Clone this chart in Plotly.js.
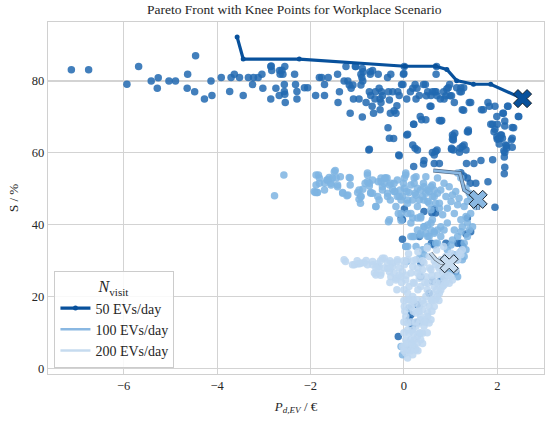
<!DOCTYPE html>
<html>
<head>
<meta charset="utf-8">
<script src="https://cdn.plot.ly/plotly-3.0.1.min.js"></script>
<style>html,body{margin:0;padding:0;background:#fff;}#chart{width:550px;height:422px;}</style>
</head>
<body>
<div id="chart"></div>
<script>
// ---- Scatter data: N_visit = 50 EVs/day ----
const ev50X = [-7.12,-6.75,-5.93,-5.68,-5.41,-5.26,-5.28,-5.03,-4.89,-4.63,-4.46,-4.64,-4.48,-4.27,-4.13,-4.11,-3.91,-3.73,-3.70,-3.63,-3.52,-3.44,-3.33,-3.22,-3.12,-3.04,-3.24,-3.02,-2.85,-2.83,-2.66,-2.65,-2.59,-2.55,-2.85,-2.74,-2.67,-2.56,-2.56,-2.54,-2.34,-2.32,-2.29,-2.29,-2.13,-2.06,-1.89,-1.81,-1.76,-1.62,-1.70,-1.70,-1.42,-1.38,-1.41,-1.28,-1.24,-1.20,-1.17,-1.13,-1.09,-1.15,-1.08,-1.03,-0.96,-0.92,-0.90,-0.88,-0.92,-0.89,-0.89,-0.81,-0.74,-0.72,-0.71,-0.67,-0.65,-0.68,-0.62,-0.61,-0.55,-0.53,-0.51,-0.49,-0.48,-0.46,-0.51,-0.35,-0.33,-0.31,-0.29,-0.28,-0.24,-0.21,-0.17,-0.15,-0.13,-0.10,-0.34,-0.22,-0.05,-0.02,-0.01,0.01,-0.87,-0.72,0.00,0.69,0.70,0.06,0.06,0.14,0.19,0.21,0.24,0.26,0.28,0.33,0.35,0.38,0.42,0.46,0.47,0.48,0.51,0.56,0.58,0.61,0.66,0.69,0.71,0.76,0.78,0.81,0.85,0.86,0.90,0.92,0.95,0.98,0.99,1.02,1.08,1.09,1.06,1.13,1.20,1.22,1.23,1.28,1.25,1.29,1.36,1.40,1.43,1.66,1.70,1.80,1.83,1.86,1.90,1.93,1.95,1.99,2.00,2.02,2.06,2.09,2.12,2.16,2.18,2.23,2.30,2.35,2.46,-0.75,-0.11,0.71,0.24,0.29,1.06,1.19,2.14,0.08,0.21,0.58,0.79,1.04,1.28,1.38,1.25,1.02,1.95,2.00,2.13,2.16,2.22,2.32,2.32,2.45,2.04,2.20,2.32,-0.31,0.19,-0.10,0.61,0.65,0.68,0.43,0.42,0.21,0.65,0.76,1.04,1.06,1.02,1.20,1.33,1.38,1.99,2.07,2.11,2.20,2.16,2.15,2.16,2.15,1.34,1.50,1.65,1.90,1.22,1.28,1.36,1.42,1.54,1.80,1.95,0.65,0.68,0.60,-0.06,-0.03,0.33,-0.03,0.59,0.65,1.22,1.26,1.33,-0.74,1.15,1.11,1.43,1.36,0.01,0.43,0.11,0.15,-0.12,0.29,0.54,0.36,0.61,0.36,0.78,0.28,0.18,0.90,-2.84,-2.61,-2.55,-1.04];
const ev50Y = [83.1,83.1,79.1,84,80,80.9,78,80,80,81.9,87,78,77,75,80,76,81,77.1,81,81.9,81,76,81,81,81,81.9,79,78,84,82.9,82.9,81.9,81.9,84,75,78,76,79,77.1,74,81.9,79,77.1,75,78.1,78.1,76,81,81,81,79,76,81.9,77,74,80,84,80,78.9,78,78.9,71,75,84,75,81.9,81,80,78.9,83.5,70,74,77,81.9,76,82.9,71,73,75,77,81.9,78,75,74,77,75.9,72,81,77,74.7,71,81.9,77,71.7,71,73.1,77,76,67,64,79,79,81.9,84,82.6,82.6,82.1,81.9,84,75,65,77,78,68,79,75,78,76,70.1,69.2,79,79,69.2,75.9,77,73,76,77,77,77,75.9,69,75,69,77,75,75.9,77.8,78.1,79,75.9,75.9,74,65.5,64.5,78.1,77,78.1,77,78.1,72,62.2,65.9,74,74,72,72,74,73,68,68,65.9,73,70.1,68,64,64,65,71,68.9,62.2,73,63.6,67,70.1,60.8,59.4,60.8,61.3,60.8,60.8,60.2,60.6,65.2,68,73,68.9,63.8,71.9,65.9,61.8,61,66.6,63.8,71,67.5,73,67.1,64.1,70.1,62.5,62,61.6,64.1,62.2,59.2,60.1,59.4,60.4,57.9,56.9,56.2,57.1,57.1,65,63.6,61.3,61.3,60.8,66.4,64.5,65,64.1,61.3,60.1,58.9,56,54.2,57.1,57.1,57.9,58.1,54.5,53.6,53,51.6,51.6,52,44.9,44.4,43.3,43.3,41.9,41.4,36.8,36,34.9,34.4,34.9,34,37.5,61,34.9,27,38.1,41.9,44.4,43.7,13.6,15,9,17.8,21,25.6,24.3,29.4,24.3,12.9,11.8,34.9,84.2,83,76.3,84];

// ---- Scatter data: N_visit = 100 EVs/day ----
const ev100X = [-2.57,-2.77,-1.83,-1.81,-1.88,-1.90,-1.85,-1.70,-1.65,-1.60,-1.56,-1.53,-1.47,-1.42,-1.36,-1.31,-1.22,-1.17,-1.15,-0.99,-0.96,-0.92,-0.93,-0.88,-0.83,-0.78,-0.78,-0.74,-0.71,-0.67,-0.60,-0.56,-0.55,-0.49,-0.46,-0.42,-0.41,-0.36,-0.35,-0.31,-0.29,-0.24,-0.21,-0.19,-0.14,-0.12,-0.08,-0.06,-0.03,-0.01,0.01,0.04,0.06,0.08,0.11,0.15,0.19,0.22,0.24,0.26,0.29,0.33,0.36,0.42,0.43,0.47,0.51,0.54,0.58,0.61,0.65,0.68,0.72,0.76,-0.33,-0.06,0.08,0.19,0.29,0.36,0.43,0.51,0.58,0.61,0.65,0.72,0.79,0.19,0.36,0.47,0.54,0.04,0.26,0.40,0.68,0.51,0.43,-1.81,-1.86,-1.70,-1.63,-1.56,-1.49,-1.45,-1.42,-1.31,-1.20,-1.15,-0.96,-0.92,-0.78,-0.74,-0.71,-0.67,-0.60,-0.53,-0.49,-0.46,-0.39,-0.35,-0.31,-0.28,-0.21,-0.17,-0.14,-0.10,-0.06,0.01,0.04,0.08,0.15,0.22,0.26,0.29,0.36,0.40,0.43,0.47,0.51,0.54,0.58,0.61,0.65,0.72,0.76,0.79,0.83,0.86,0.90,0.93,0.97,1.01,1.04,1.08,1.11,1.15,1.18,1.22,1.25,1.29,1.33,1.36,1.40,1.43,1.47,1.50,1.54,1.36,1.29,1.22,1.15,1.08,1.04,0.93,0.86,0.79,0.72,0.65,0.58,0.51,0.43,0.36,0.29,0.22,0.15,0.08,0.93,1.01,1.08,1.15,1.22,1.25,1.29,1.33,1.15,1.22,1.33,1.40,1.43,1.36,1.04,0.93,0.86,1.15,-1.92,-1.88,0.04,0.15,0.06,0.33,0.11,-0.06,-0.03,0.08];
const ev100Y = [53.9,48.1,53.9,53,51.1,49,49,51.6,52.5,53.2,51.6,53,55.1,51.1,53.4,49,48.1,53.2,51.1,49,47.1,47.9,46,49.9,51.6,53.9,52,50.8,49,48.8,45.1,47.9,52,53,50.6,51.6,53,53,48.8,51.1,46.9,49.9,51.6,49.3,47.9,43.2,49.7,46.9,47.9,51.6,53,53.9,49.3,46,49,43.2,46.9,51.6,48.8,53.4,50.2,46.9,49.7,51.6,46.9,48.8,49.7,46,50.6,47.9,49.7,46,48.8,44.6,40.9,41.2,43.2,41.9,41.9,42.3,39.5,40,40.5,41.4,38.1,38.6,39.5,36.8,37.2,37.7,36.8,34,34,33.1,34.9,34,31.7,51.6,49,49.7,52.5,51.1,54.8,53,50.6,48.8,48.3,53,49.7,47.9,54.4,51.6,48.8,52.5,45.1,46.9,52,49.7,53,47.9,41.4,51.6,49.3,45.1,52.5,47.9,43.2,50.2,54.4,46.9,51.1,53,48.3,45.1,41.9,47.9,50.6,53.4,46.5,49.3,44.2,51.1,47.9,53,46,49.7,42.8,51.6,47.9,44.6,50.6,46.5,48.3,43.2,49.3,45.6,47.4,41.4,39.5,45.1,42.3,40.5,38.6,43.2,39.5,46.9,45.1,36.8,34.9,38.1,36.8,38.6,35.8,40.5,38.6,36.8,34.9,37.7,38.6,36.8,39.5,37.7,38.6,36.8,40.5,34,33.1,34.4,31.7,30.3,32.6,30.3,31.2,33.1,54.4,53,50.2,48.8,47.9,46.5,27.5,26.6,25.2,25.6,49.3,53.9,34,36.8,29.8,30.7,16.9,6.2,3.9,5.3];

// ---- Scatter data: N_visit = 200 EVs/day ----
const ev200X = [-1.25,-1.06,-0.99,-0.92,-0.85,-0.81,-1.28,-1.10,-0.95,-0.78,-0.67,-0.56,-0.42,-0.35,-0.24,-0.60,-0.49,-0.14,-0.17,-0.67,-0.63,-0.56,-0.53,-0.46,-0.42,-0.35,-0.31,-0.28,-0.24,-0.21,-0.17,-0.14,-0.10,-0.06,-0.03,0.01,0.04,0.08,0.11,0.15,0.19,0.22,0.26,0.29,0.33,0.36,0.40,0.43,0.47,0.51,0.54,0.58,0.61,0.65,0.68,0.72,0.76,0.79,0.83,0.86,0.90,0.93,0.97,1.01,1.04,1.08,1.11,1.15,1.18,1.22,1.25,1.01,0.08,0.11,0.15,0.19,0.22,0.26,0.29,0.33,0.36,0.40,0.43,0.47,0.51,0.54,0.58,0.61,0.65,0.68,0.72,0.76,0.79,0.83,0.86,0.08,0.11,0.15,0.19,0.22,0.26,0.29,0.33,0.36,0.40,0.43,0.47,0.51,0.54,0.58,0.01,0.04,0.08,0.11,0.15,0.19,0.22,0.26,0.29,0.33,0.36,-0.03,0.08,0.01,0.04,0.08,0.04,0.70,0.85,0.50,0.30,0.10,
  -0.15,0.00,0.30,0.50,0.70,-0.30,-0.05,0.20,0.45,0.70,0.90,-0.50,-0.10,0.05,0.35,0.60,0.95,-0.60,-0.30,0.30,0.55,0.75,-1.00,-0.50,-0.30,0.00,0.20,0.40,0.65,0.00,0.20,0.40,0.60,0.75,0.02,0.20,0.32,0.60,0.00,0.15,0.25,0.45,0.00,0.20,0.35,0.50,0.05,0.18,0.40,0.00,0.15,0.30];
const ev200Y = [29.8,28.9,29.2,29.4,29.5,30.1,30.3,28.9,29.2,28.9,29.8,28.4,30.7,27.9,29.4,26.1,26.6,29.8,25.2,28.9,26.6,29.2,28.4,30.7,28,29.4,27,25.6,28.4,26.6,24.7,30.3,28,25.6,27,28.9,24.7,30.3,22.9,26.6,28.4,23.8,30.3,26.6,25.2,22.9,27.5,29.4,25.6,23.8,31.2,27.5,24.7,22.9,28.9,26.1,23.8,30.3,27,25.2,31.2,28.4,23.8,25.6,24.7,30.3,27.5,30.3,32.1,31.7,33.1,32.1,21,19.2,17.3,20.1,18.2,15.5,19.2,17.3,13.6,16.4,18.2,20.1,15.5,17.3,19.2,21,17.3,19.2,20.1,21,21.9,22.9,23.3,12.7,9.9,8.1,10.8,6.2,11.8,9,12.7,14.5,9.9,11.8,13.6,14.5,12.7,13.6,6.2,4.4,3,5.3,7.1,3.9,8.1,5.3,7.1,9.9,8.1,6.2,19.2,17.3,14.5,10.8,8.1,33,34,33.5,32.5,32,
  22,22,22,22,22,24,24,24,24,24,24,26,26,26,26,26,26,28,28,28,28,28,30,30,30,30,30,30,30,19,19,19,19,19,16,16,16,16,13,13,13,13,10,10,10,10,7,7,7,5,5,5];

// ---- Pareto fronts ----
const front50X = [-3.57,-3.44,-2.24,0.02,0.68,0.92,1.13,1.49,1.86,2.54];
const front50Y = [92.2,86.1,86.1,84.1,84.1,83.2,80.1,79.1,79.1,75.1];
const front100X = [0.63,1.20,1.29,1.47,1.59,1.59];
const front100Y = [55.1,54.4,49.7,48.1,47.1,44.2];
const front200X = [0.57,0.68,0.79,0.97];
const front200Y = [32.2,30.5,29.5,29.2];

// ---- Knee points ----
const kneeX = [2.54,1.59,0.97];
const kneeY = [75.1,47.1,29.2];

const seriesNames = ['50 EVs/day','100 EVs/day','200 EVs/day'];
const pointColors = ['rgba(33,104,176,0.85)','rgba(126,180,226,0.85)','rgba(190,215,240,0.88)'];
const lineColors = ['#08519c','#8ab8e2','#c6dbef'];

const serif = 'Liberation Serif, DejaVu Serif, serif';
const traces = [];
[[ev50X,ev50Y],[ev100X,ev100Y],[ev200X,ev200Y]].forEach((s,i)=>{
  traces.push({x:s[0],y:s[1],type:'scatter',mode:'markers',showlegend:false,hoverinfo:'skip',
    marker:{color:pointColors[i],size:7.5,line:{width:0}}});
});
// front 50
traces.push({x:front50X,y:front50Y,type:'scatter',mode:'lines+markers',name:seriesNames[0],
  line:{color:lineColors[0],width:3.2},marker:{color:lineColors[0],size:5}});
// front 100
traces.push({x:front100X,y:front100Y,type:'scatter',mode:'lines',showlegend:false,
  line:{color:'#4d6580',width:4}});
traces.push({x:front100X,y:front100Y,type:'scatter',mode:'lines',name:seriesNames[1],
  line:{color:lineColors[1],width:2.6}});
// front 200
traces.push({x:front200X,y:front200Y,type:'scatter',mode:'lines',showlegend:false,
  line:{color:'#5a6672',width:4}});
traces.push({x:front200X,y:front200Y,type:'scatter',mode:'lines',name:seriesNames[2],
  line:{color:lineColors[2],width:2.6}});
// knees
kneeX.forEach((kx,i)=>{
  traces.push({x:[kx],y:[kneeY[i]],type:'scatter',mode:'markers',showlegend:false,
    marker:{symbol:'x',size:16,color:lineColors[i],line:{color:'#1a2530',width:1}}});
});

const layout = {
  width:550,height:422,
  margin:{l:47.5,r:5.7,t:22,b:47.5},
  paper_bgcolor:'#fff',plot_bgcolor:'#fff',
  font:{family:serif,size:12,color:'#262626'},
  title:{text:'Pareto Front with Knee Points for Workplace Scenario',x:0.535,xanchor:'center',y:0.978,yanchor:'middle',
    font:{family:serif,size:13.5,color:'#262626'}},
  xaxis:{range:[-7.62,3.0],tickvals:[-6,-4,-2,0,2],showgrid:true,gridcolor:'#d3d3d3',gridwidth:1.1,
    zeroline:false,showline:true,mirror:true,linecolor:'#d0d0d0',linewidth:1.3,ticks:'',
    tickfont:{family:serif,size:12.5,color:'#262626'},
    title:{text:'<i>P</i><sub><i>d,EV</i></sub> / €',font:{family:serif,size:13,color:'#262626'},standoff:9}},
  yaxis:{range:[-1.45,96.4],tickvals:[0,20,40,60,80],showgrid:true,gridcolor:'#d3d3d3',gridwidth:1.1,
    zeroline:false,showline:true,mirror:true,linecolor:'#d0d0d0',linewidth:1.3,ticks:'',
    tickfont:{family:serif,size:12.5,color:'#262626'},
    title:{text:'S / %',font:{family:serif,size:13,color:'#262626'},standoff:10}},
  legend:{x:0.013,y:0.018,xanchor:'left',yanchor:'bottom',bgcolor:'rgba(255,255,255,0.85)',
    bordercolor:'#cccccc',borderwidth:1,font:{family:serif,size:14,color:'#262626'},
    title:{text:'<i>N</i><sub>visit</sub>',side:'top center',font:{family:serif,size:16,color:'#262626'}},
    tracegroupgap:0,itemwidth:30}
};
Plotly.newPlot('chart',traces,layout,{displayModeBar:false,staticPlot:true});
</script>
</body>
</html>
